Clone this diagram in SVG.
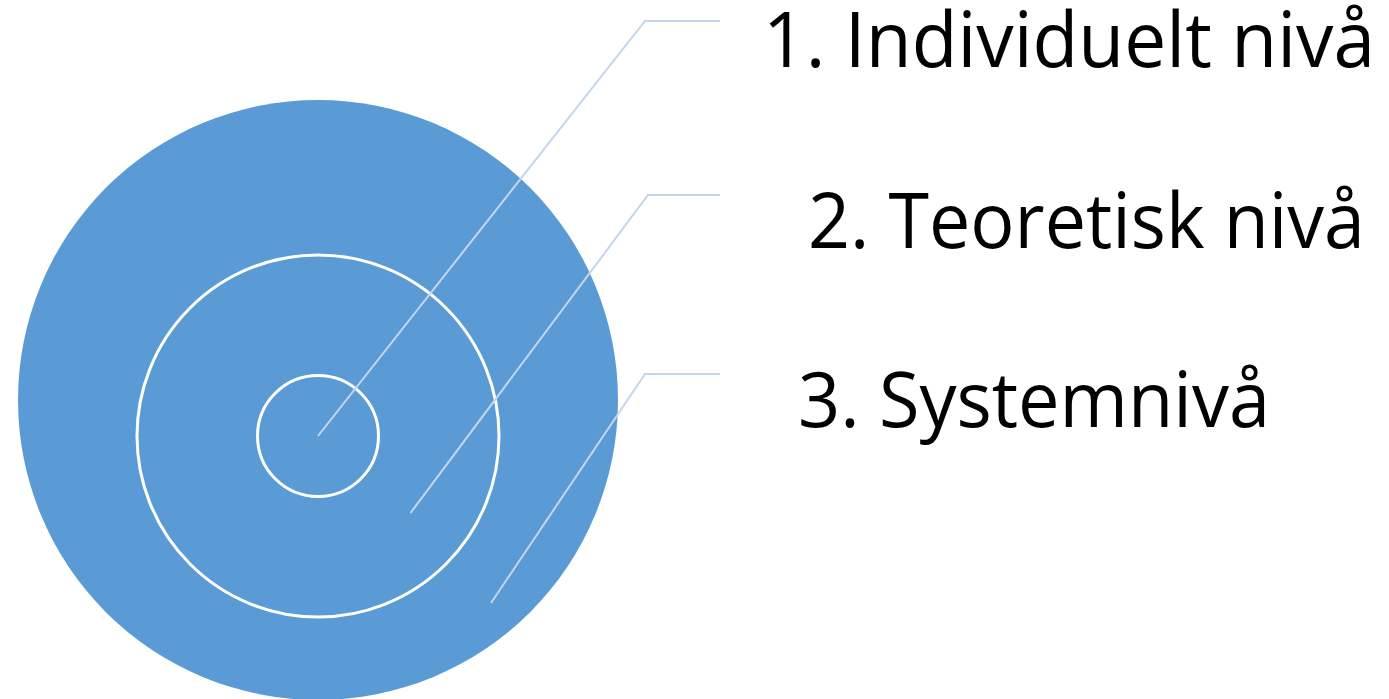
<svg xmlns="http://www.w3.org/2000/svg" width="1389" height="699" viewBox="0 0 1389 699">
<style>
.ring{fill:none;stroke:#ffffff;stroke-width:3}
.lead{fill:none;stroke:#c5d5ea;stroke-width:2}
.lbl{font-family:"Open Sans","Liberation Sans",sans-serif;font-size:76px;fill:#000000}
</style>
<rect width="1389" height="699" fill="#ffffff"/>
<g id="outer"><circle cx="318" cy="400" r="300" fill="#5b9bd5"/></g>
<g id="middle"><circle class="ring" cx="318" cy="436" r="181"/></g>
<g id="inner"><circle class="ring" cx="318" cy="436" r="60.5"/></g>
<g id="connectors">
<polyline class="lead" points="318,436 645,21 720,21"/>
<polyline class="lead" points="410.5,513 648,195 720,195"/>
<polyline class="lead" points="491,603 645,374 720,374"/>
</g>
<g id="label1"><text class="lbl" x="763" y="67" textLength="612" lengthAdjust="spacingAndGlyphs">1. Individuelt nivå</text></g>
<g id="label2"><text class="lbl" x="808" y="248" textLength="557" lengthAdjust="spacingAndGlyphs">2. Teoretisk nivå</text></g>
<g id="label3"><text class="lbl" x="798" y="427" textLength="472" lengthAdjust="spacingAndGlyphs">3. Systemnivå</text></g>
</svg>
